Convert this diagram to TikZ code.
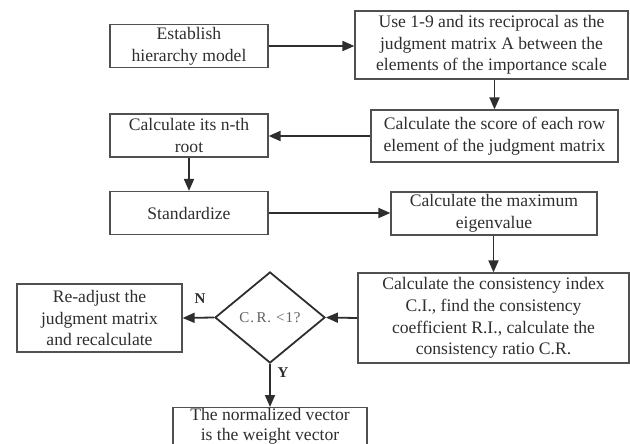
\documentclass[tikz,border=0pt]{standalone}
\usepackage{fontspec}
\setmainfont{Liberation Serif}
\usetikzlibrary{arrows.meta,shapes.geometric}
\definecolor{ink}{HTML}{2E2E2E}
\definecolor{frame}{HTML}{505050}
\definecolor{pale}{HTML}{606060}
\tikzset{
  stepbox/.style={draw=frame, line width=1.2pt, rectangle, inner sep=0pt, align=center,
    text=ink, font=\fontsize{17.6}{21.7}\selectfont},
  decision/.style={draw=ink, line width=1.8pt, diamond, inner sep=0pt,
    text=pale, font=\fontsize{15}{16}\selectfont\addfontfeature{LetterSpace=6}},
  flow/.style={draw=ink, line width=1.8pt, -{Triangle[length=12pt,width=10pt]}},
  tag/.style={text=ink, font=\bfseries\fontsize{15}{16}\selectfont}
}
\begin{document}
\begin{tikzpicture}[x=1pt, y=-1pt]
\useasboundingbox (0,0) rectangle (630,444);
\clip (0,0) rectangle (630,444);
\node[stepbox, minimum width=158pt, minimum height=43pt] (b1) at (189,46) {Establish\\hierarchy model};
\node[stepbox, minimum width=273pt, minimum height=68pt] (b2) at (491.5,45) {Use 1-9 and its reciprocal as the\\judgment matrix A between the\\elements of the importance scale};
\node[stepbox, minimum width=247pt, minimum height=52pt] (b3) at (494.5,136) {Calculate the score of each row\\element of the judgment matrix};
\node[stepbox, minimum width=158pt, minimum height=43pt] (b4) at (189,135.5) {Calculate its n-th\\root};
\node[stepbox, minimum width=158pt, minimum height=43pt] (b5) at (189,213) {Standardize};
\node[stepbox, minimum width=206pt, minimum height=43pt] (b6) at (494,213.5) {Calculate the maximum\\eigenvalue};
\node[stepbox, minimum width=271pt, minimum height=90pt] (b7) at (493.5,318) {Calculate the consistency index\\C.I., find the consistency\\coefficient R.I., calculate the\\consistency ratio C.R.};
\node[decision, minimum width=110pt, minimum height=91pt] (d) at (270,317.5) {C.\,R.\,\,<1?};
\node[stepbox, minimum width=165pt, minimum height=68pt] (b8) at (99.5,318) {Re-adjust the\\judgment matrix\\and recalculate};
\node[stepbox, minimum width=194pt, anchor=north, inner ysep=0.5pt, text depth=30pt,
  font=\fontsize{17.6}{20}\selectfont] (b9) at (270,407) {The normalized vector\\is the weight vector};

\draw[flow] (b1.east) -- (b1.east -| b2.west);
\draw[flow] (b2.south -| b3.north) -- (b3.north);
\draw[flow] (b3.west) -- (b3.west -| b4.east);
\draw[flow] (b4.south) -- (b5.north);
\draw[flow] (b5.east) -- (b5.east -| b6.west);
\draw[flow] (b6.south -| b7.north) -- (b7.north);
\draw[flow] (b7.west) -- (d.east);
\draw[flow] (d.west) -- (b8.east);
\draw[flow] (d.south) -- (d.south |- b9.north);

\node[tag] (n) at (200,299) {N};
\node[tag] (y) at (283,373) {Y};
\end{tikzpicture}
\end{document}
